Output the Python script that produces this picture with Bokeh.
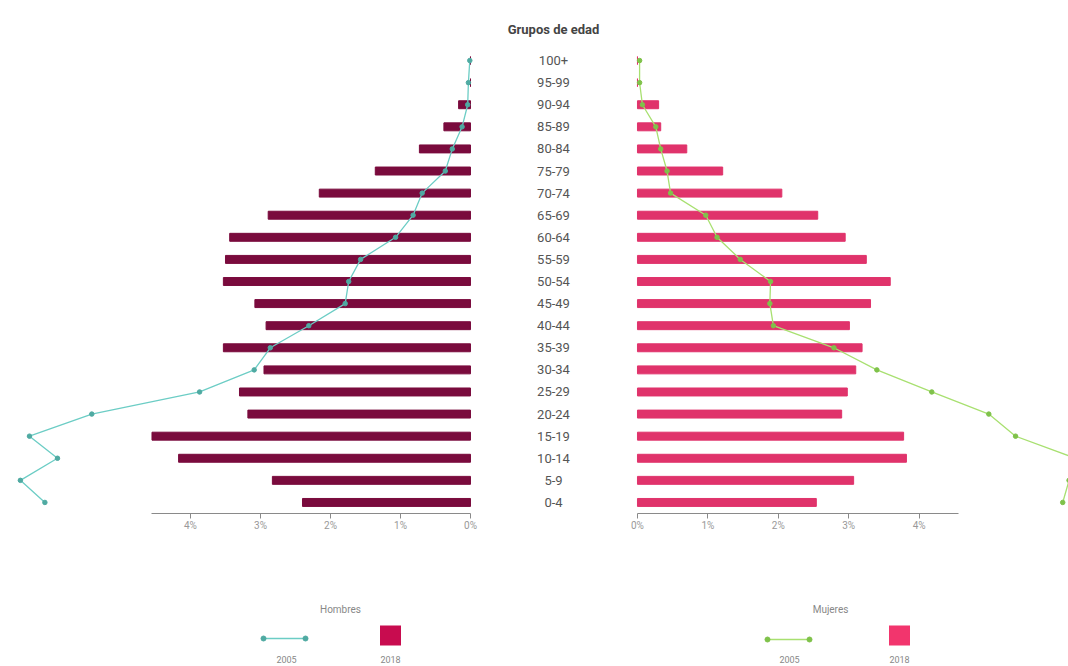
from bokeh.plotting import figure
from bokeh.models import Range1d, FactorRange, FixedTicker, PrintfTickFormatter
from bokeh.layouts import row, column
from bokeh.embed import file_html
from bokeh.resources import INLINE
from bokeh.core.properties import value

# ---- data (percent of total population), bottom to top ----
grupos = ["0-4", "5-9", "10-14", "15-19", "20-24", "25-29", "30-34", "35-39",
          "40-44", "45-49", "50-54", "55-59", "60-64", "65-69", "70-74",
          "75-79", "80-84", "85-89", "90-94", "95-99", "100+"]
hombres_2018 = [2.40, 2.83, 4.17, 4.55, 3.18, 3.30, 2.95, 3.53, 2.92, 3.08, 3.53,
                3.50, 3.44, 2.89, 2.16, 1.36, 0.73, 0.38, 0.17, 0.0, 0.0]
hombres_2005 = [6.08, 6.43, 5.90, 6.30, 5.41, 3.87, 3.09, 2.86, 2.31, 1.79, 1.74,
                1.57, 1.07, 0.82, 0.69, 0.36, 0.26, 0.12, 0.04, 0.03, 0.01]
mujeres_2018 = [2.54, 3.07, 3.82, 3.78, 2.90, 2.98, 3.10, 3.19, 3.01, 3.31, 3.59,
                3.25, 2.95, 2.56, 2.05, 1.21, 0.70, 0.33, 0.30, 0.0, 0.0]
mujeres_2005 = [6.04, 6.13, 6.22, 5.37, 4.99, 4.18, 3.40, 2.79, 1.93, 1.88, 1.89,
                1.46, 1.13, 0.97, 0.47, 0.42, 0.33, 0.26, 0.07, 0.03, 0.03]
eje_ticks = [0, 1, 2, 3, 4]
eje_max = 4.56

FONT = "Roboto"
H_BAR = "#7a0b3d"
M_BAR = "#e0336b"
H_LINE = "#6ccdc5"
H_DOT = "#4faaa2"
M_LINE = "#a8e070"
M_DOT = "#7fc24a"

yr = FactorRange(factors=grupos)

common = dict(height=560, y_range=yr, output_backend="svg", toolbar_location=None,
              min_border_top=49, min_border_bottom=47, min_border_left=0,
              min_border_right=0, y_axis_location=None)


def style(p):
    p.grid.visible = False
    p.outline_line_color = None
    p.background_fill_color = "white"
    p.border_fill_color = "white"


def style_axis(p):
    ax = p.xaxis[0]
    ax.bounds = (0, eje_max)
    ax.ticker = FixedTicker(ticks=eje_ticks)
    ax.formatter = PrintfTickFormatter(format="%d%%")
    ax.axis_line_color = "#8a8a8a"
    ax.major_tick_line_color = "#8a8a8a"
    ax.major_tick_out = 5
    ax.major_tick_in = 0
    ax.minor_tick_line_color = None
    ax.major_label_text_font = FONT
    ax.major_label_text_font_size = "10px"
    ax.major_label_text_color = "#999999"
    ax.major_label_standoff = 1


# ---- left: Hombres ----
left = figure(width=480, x_range=Range1d(6.714, -0.1429), **common)
style(left)
left.hbar(y=grupos, left=0, right=hombres_2018, height=0.36, color=H_BAR)
left.line(hombres_2005, grupos, line_color=H_LINE, line_width=1.3)
left.scatter(hombres_2005, grupos, size=4.5, fill_color=H_DOT, line_color=H_DOT)
style_axis(left)

# ---- middle: labels ----
mid = figure(width=146, x_range=Range1d(0, 1), x_axis_location=None,
             title="Grupos de edad", **common)
style(mid)
mid.title.align = "center"
mid.title.text_font = FONT
mid.title.text_font_size = "13px"
mid.title.text_font_style = "bold"
mid.title.text_color = "#444444"
mid.title.standoff = 26
mid.text(x=0.5, y=grupos, text=grupos, text_align="center", text_baseline="middle",
         text_font=value(FONT), text_font_size="13px", text_color="#555555")

# ---- right: Mujeres ----
right = figure(width=442, x_range=Range1d(-0.156, 6.122), **common)
style(right)
right.hbar(y=grupos, left=0, right=mujeres_2018, height=0.36, color=M_BAR)
right.line(mujeres_2005, grupos, line_color=M_LINE, line_width=1.3)
right.scatter(mujeres_2005, grupos, size=4.5, fill_color=M_DOT, line_color=M_DOT)
style_axis(right)

# ---- legend strip ----
leg = figure(width=1068, height=106, x_range=Range1d(0, 1068), y_range=Range1d(666, 560),
             output_backend="svg", toolbar_location=None, x_axis_location=None,
             y_axis_location=None, min_border=0)
style(leg)
leg.text(x=[340, 830], y=[609, 609], text=["Hombres", "Mujeres"], text_align="center",
         text_baseline="middle", text_font=value(FONT), text_font_size="10px",
         text_color="#888888")
leg.line([263, 305], [638, 638], line_color=H_LINE, line_width=1.5)
leg.scatter([263, 305], [638, 638], size=5, fill_color=H_DOT, line_color=H_DOT)
leg.line([767, 809], [639, 639], line_color=M_LINE, line_width=1.5)
leg.scatter([767, 809], [639, 639], size=5, fill_color=M_DOT, line_color=M_DOT)
leg.rect(x=[390, 899], y=[635, 635], width=21, height=20, fill_color=["#c80c4f", "#f2356d"],
         line_color=None)
leg.text(x=[286, 390, 789, 899], y=[659, 659, 659, 659], text=["2005", "2018", "2005", "2018"],
         text_align="center", text_baseline="middle", text_font=value(FONT),
         text_font_size="9px", text_color="#888888")

layout = column(row(left, mid, right), leg)
open("out.html", "w").write(file_html(layout, INLINE))
